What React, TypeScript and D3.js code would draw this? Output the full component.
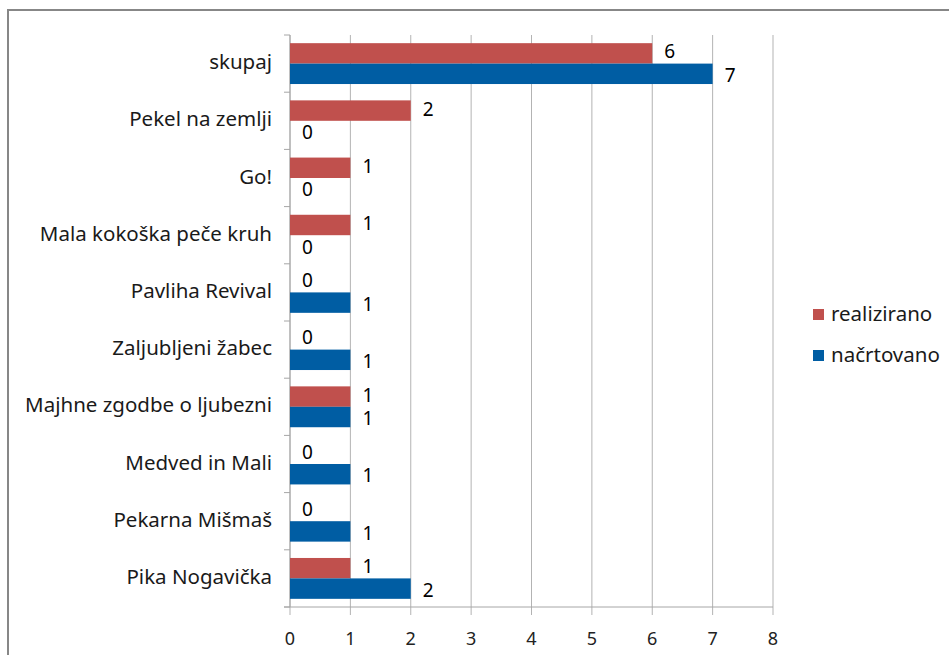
import * as d3 from 'd3';

const categories = [
  'skupaj',
  'Pekel na zemlji',
  'Go!',
  'Mala kokoška peče kruh',
  'Pavliha Revival',
  'Zaljubljeni žabec',
  'Majhne zgodbe o ljubezni',
  'Medved in Mali',
  'Pekarna Mišmaš',
  'Pika Nogavička',
];
const realizirano = [6, 2, 1, 1, 0, 0, 1, 0, 0, 1];
const nacrtovano = [7, 0, 0, 0, 1, 1, 1, 1, 1, 2];
const xTicks = [0, 1, 2, 3, 4, 5, 6, 7, 8];

const series = [
  { name: 'realizirano', values: realizirano, color: '#C0504D', dy: 0 },
  { name: 'načrtovano', values: nacrtovano, color: '#005DA3', dy: 3 },
];

const W = 949;
const H = 655;
const FONT = "'Noto Sans', 'Open Sans', sans-serif";

export default function App() {
  const x = d3.scaleLinear().domain([0, 8]).range([290, 773]);
  const y = d3.scaleBand().domain(categories).range([35, 607]);
  const inner = d3
    .scaleBand()
    .domain(series.map((s) => s.name))
    .range([0, y.bandwidth()])
    .paddingOuter(0.4);

  const bounds = categories.map((_, i) => 35 + i * y.step()).concat([607]);

  return (
    <svg
      width={W}
      height={H}
      style={{ position: 'absolute', left: 0, top: 0, display: 'block' }}
      fontFamily={FONT}
    >
      <rect x={0} y={0} width={W} height={H} fill="#fff" />
      <rect x={8} y={10} width={1000} height={700} fill="none" stroke="#878787" strokeWidth={2} />

      {/* vertical grid + x ticks */}
      {xTicks.map((t) => (
        <g key={t}>
          <line x1={x(t)} x2={x(t)} y1={35} y2={615} stroke="#b3b3b3" strokeWidth={1} />
          <text x={x(t)} y={640} textAnchor="middle" dominantBaseline="middle" fontSize={18} fill="#222">
            {t}
          </text>
        </g>
      ))}
      <line x1={284} x2={773} y1={607} y2={607} stroke="#a6a6a6" />
      <line x1={290} x2={290} y1={35} y2={607} stroke="#a6a6a6" />
      {bounds.map((b, i) => (
        <line key={i} x1={284} x2={290} y1={b} y2={b} stroke="#a6a6a6" />
      ))}

      {/* category labels */}
      {categories.map((c) => (
        <text
          key={c}
          x={272}
          y={(y(c) ?? 0) + y.bandwidth() / 2}
          textAnchor="end"
          dominantBaseline="middle"
          fontSize={20.5}
          fill="#1a1a1a"
        >
          {c}
        </text>
      ))}

      {/* bars */}
      {series.map((s) =>
        categories.map((c, i) => {
          const by = (y(c) ?? 0) + (inner(s.name) ?? 0);
          const bw = x(s.values[i]) - x(0);
          return (
            <g key={s.name + c}>
              {bw > 0 && (
                <rect x={x(0)} y={by} width={bw} height={inner.bandwidth()} fill={s.color} />
              )}
              <text
                x={x(s.values[i]) + 12}
                y={by + inner.bandwidth() / 2 + s.dy}
                dominantBaseline="middle"
                fontSize={19}
                fill="#000"
              >
                {s.values[i]}
              </text>
            </g>
          );
        })
      )}

      {/* legend */}
      {series.map((s, i) => (
        <g key={s.name} transform={`translate(813, ${309 + i * 41})`}>
          <rect x={0} y={0} width={11} height={11} fill={s.color} />
          <text x={18} y={6} dominantBaseline="middle" fontSize={20.5} fill="#1a1a1a">
            {s.name}
          </text>
        </g>
      ))}
    </svg>
  );
}
